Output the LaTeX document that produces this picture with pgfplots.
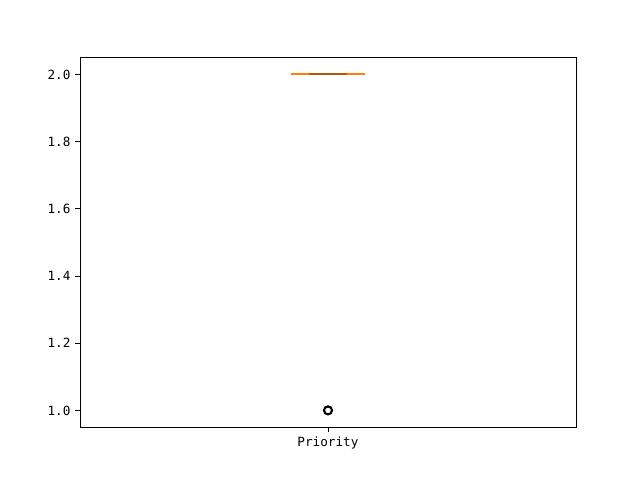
\documentclass[border=0pt]{standalone}
\usepackage{pgfplots}
\pgfplotsset{compat=1.18}
\usepackage{fontspec}
\setmainfont{DejaVu Sans Mono}
\definecolor{mplorange}{HTML}{FF7F0E}
\begin{document}
\begin{tikzpicture}
\useasboundingbox (-60pt,-39.6pt) rectangle (420pt,320.4pt);
\begin{axis}[
  at={(0,0)}, anchor=south west,
  scale only axis, width=372pt, height=277.2pt,
  xmin=0.5, xmax=1.5, ymin=0.95, ymax=2.05,
  xtick={1}, xticklabels={Priority},
  ytick={1.0,1.2,1.4,1.6,1.8,2.0},
  yticklabel style={/pgf/number format/.cd, fixed, fixed zerofill, precision=1},
  /pgf/number format/assume math mode=true,
  tick align=outside, xtick pos=bottom, ytick pos=left,
  major tick length=3.6pt,
  every tick/.style={black, line width=0.6pt},
  axis line style={line width=0.6pt},
  tick label style={font=\fontsize{9.5}{11}\selectfont},
  clip=false,
]
% degenerate box (Q1 = Q3 = 2)
\addplot[black!55, line width=1.5pt, mark=none] coordinates {(0.925,2) (1.075,2)};
% whisker caps
\addplot[black, line width=1.4pt, mark=none] coordinates {(0.9625,2) (1.0375,2)};
% median
\addplot[mplorange, opacity=0.7, line width=1.4pt, mark=none] coordinates {(0.9625,2) (1.0375,2)};
\addplot[mplorange, line width=1.4pt, mark=none] coordinates {(0.925,2) (0.9625,2)};
\addplot[mplorange, line width=1.4pt, mark=none] coordinates {(1.0375,2) (1.075,2)};
% outliers
\addplot[only marks, mark=o, mark size=3pt, mark options={draw=black, fill=none, line width=1.6pt}] coordinates {(1,1)};
\end{axis}
\end{tikzpicture}
\end{document}
